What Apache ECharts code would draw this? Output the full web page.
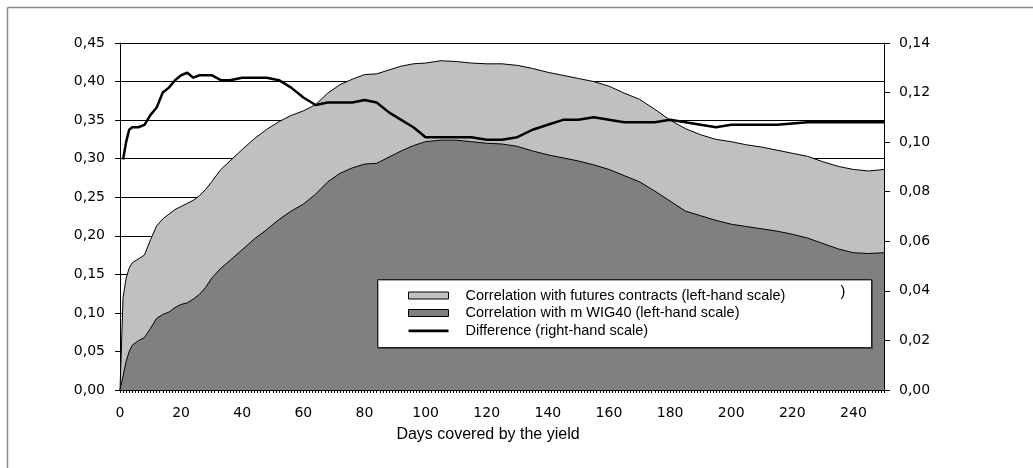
<!DOCTYPE html>
<html>
<head>
<meta charset="utf-8">
<script src="https://cdn.jsdelivr.net/npm/echarts@6/dist/echarts.min.js"></script>
<style>
html,body{margin:0;padding:0;background:#fff;}
#c{width:1033px;height:468px;}
</style>
</head>
<body>
<div id="c"></div>
<script>
const days = [0,1,2,3,4,6,8,10,12,14,16,18,20,22,24,26,28,30,33,36,40,44,48,52,56,60,64,68,72,76,80,84,88,92,96,100,105,110,115,120,125,130,135,140,145,150,155,160,165,170,175,180,185,190,195,200,205,210,215,220,225,230,235,240,245,250];
// Correlation with futures contracts (left-hand scale)
const futures = [0.000,0.120,0.145,0.158,0.165,0.170,0.175,0.195,0.213,0.222,0.228,0.234,0.238,0.242,0.246,0.252,0.260,0.270,0.286,0.297,0.312,0.326,0.338,0.348,0.356,0.362,0.370,0.385,0.396,0.403,0.409,0.410,0.415,0.420,0.423,0.424,0.427,0.426,0.424,0.423,0.423,0.421,0.417,0.412,0.408,0.404,0.400,0.394,0.385,0.377,0.364,0.350,0.339,0.331,0.325,0.322,0.318,0.315,0.311,0.307,0.303,0.296,0.290,0.286,0.284,0.286];
// Correlation with m WIG40 (left-hand scale)
const wig40 = [0.000,0.018,0.037,0.050,0.058,0.064,0.068,0.080,0.093,0.098,0.101,0.107,0.111,0.113,0.118,0.124,0.133,0.145,0.158,0.168,0.182,0.196,0.208,0.221,0.232,0.241,0.254,0.270,0.281,0.288,0.293,0.294,0.302,0.310,0.317,0.322,0.324,0.324,0.322,0.320,0.319,0.316,0.310,0.305,0.301,0.297,0.292,0.286,0.278,0.270,0.258,0.245,0.232,0.226,0.220,0.215,0.212,0.209,0.206,0.202,0.197,0.190,0.183,0.178,0.177,0.178];
// Difference (right-hand scale)
const difference = [null,0.093,0.100,0.105,0.106,0.106,0.107,0.111,0.114,0.120,0.122,0.125,0.127,0.128,0.126,0.127,0.127,0.127,0.125,0.125,0.126,0.126,0.126,0.125,0.122,0.118,0.115,0.116,0.116,0.116,0.117,0.116,0.112,0.109,0.106,0.102,0.102,0.102,0.102,0.101,0.101,0.102,0.105,0.107,0.109,0.109,0.110,0.109,0.108,0.108,0.108,0.109,0.108,0.107,0.106,0.107,0.107,0.107,0.107,0.1075,0.108,0.108,0.108,0.108,0.108,0.108];

const categories = [];
for (let d = 0; d <= 250; d++) categories.push(String(d));

const seriesNames = [
  'Correlation with futures contracts (left-hand scale)',
  'Correlation with m WIG40 (left-hand scale)',
  'Difference (right-hand scale)'
];
const axisTitle = 'Days covered by the yield';

const fmt = v => v.toFixed(2).replace('.', ',');
const FONT = 'Liberation Sans, Arial, sans-serif';
const AXFONT = 'DejaVu Sans, sans-serif';

const chart = echarts.init(document.getElementById('c'), null, {renderer: 'canvas'});
chart.setOption({
  animation: false,
  backgroundColor: '#fff',
  textStyle: {fontFamily: FONT},
  grid: {left: 120, right: 149, top: 43, bottom: 78, containLabel: false},
  xAxis: {
    type: 'category',
    data: categories,
    boundaryGap: false,
    axisLine: {lineStyle: {color: '#000', width: 1}},
    axisTick: {interval: 0, length: 3, lineStyle: {color: '#000'}},
    axisLabel: {interval: 19, margin: 16, color: '#000', fontSize: 14, fontFamily: AXFONT},
    splitLine: {show: false}
  },
  yAxis: [
    {
      type: 'value', min: 0, max: 0.45, interval: 0.05,
      axisLine: {show: true, lineStyle: {color: '#000'}},
      axisTick: {show: true, length: 5, lineStyle: {color: '#000'}},
      axisLabel: {formatter: fmt, color: '#000', fontSize: 14, margin: 15, fontFamily: AXFONT},
      splitLine: {show: true, lineStyle: {color: '#000', width: 1}}
    },
    {
      type: 'value', min: 0, max: 0.14, interval: 0.02,
      axisLine: {show: true, lineStyle: {color: '#000'}},
      axisTick: {show: true, length: 6, lineStyle: {color: '#000'}},
      axisLabel: {formatter: fmt, color: '#000', fontSize: 14, margin: 15, fontFamily: AXFONT},
      splitLine: {show: false}
    }
  ],
  legend: {
    orient: 'vertical',
    left: 408, top: 288,
    padding: 0,
    itemWidth: 40, itemHeight: 7, itemGap: 2.5,
    z: 20,
    textStyle: {fontSize: 14.5, lineHeight: 15, color: '#000', fontFamily: FONT, padding: [0,0,0,12]},
    data: [
      {name: seriesNames[0], icon: 'rect', itemStyle: {color: '#c0c0c0', borderColor: '#000', borderWidth: 1}},
      {name: seriesNames[1], icon: 'rect', itemStyle: {color: '#808080', borderColor: '#000', borderWidth: 1}},
      {name: seriesNames[2], icon: 'path://M0,0h0.01v0.01h-0.01z M0,2.6h40v2.6h-40z M0,6.99h0.01v0.01h-0.01z', itemStyle: {color: '#000', borderWidth: 0}}
    ]
  },
  graphic: [
    {type: 'line', shape: {x1: 7.5, y1: 7.5, x2: 1033, y2: 7.5}, style: {stroke: '#8a8a8a', lineWidth: 1.5}, z: 1},
    {type: 'line', shape: {x1: 7.5, y1: 7.5, x2: 7.5, y2: 468}, style: {stroke: '#8a8a8a', lineWidth: 1.5}, z: 1},
    {type: 'rect', shape: {x: 377.5, y: 279.5, width: 494, height: 68}, style: {fill: '#fff', stroke: '#222', lineWidth: 1, shadowColor: 'rgba(0,0,0,0.35)', shadowOffsetX: 1, shadowOffsetY: 1, shadowBlur: 0}, z: 15},
    {type: 'text', x: 843, y: 292, style: {text: ')', font: '14.5px ' + FONT, fill: '#000', textAlign: 'center', textVerticalAlign: 'middle'}, z: 16},
    {type: 'text', x: 488, y: 435, style: {text: axisTitle, font: '16px ' + FONT, fill: '#000', textAlign: 'center', textVerticalAlign: 'middle'}, z: 16}
  ],
  series: [
    {
      name: seriesNames[0], type: 'line', yAxisIndex: 0,
      data: days.map((d, i) => [d, futures[i]]),
      symbol: 'none', showSymbol: false,
      lineStyle: {color: '#000', width: 1},
      itemStyle: {color: '#c0c0c0'},
      areaStyle: {color: '#c0c0c0', opacity: 1},
      z: 2
    },
    {
      name: seriesNames[1], type: 'line', yAxisIndex: 0,
      data: days.map((d, i) => [d, wig40[i]]),
      symbol: 'none', showSymbol: false,
      lineStyle: {color: '#000', width: 1},
      itemStyle: {color: '#808080'},
      areaStyle: {color: '#808080', opacity: 1},
      z: 3
    },
    {
      name: seriesNames[2], type: 'line', yAxisIndex: 1,
      data: days.map((d, i) => [d, difference[i]]),
      symbol: 'none', showSymbol: false,
      lineStyle: {color: '#000', width: 2.5},
      itemStyle: {color: '#000'},
      z: 4
    }
  ]
});
</script>
</body>
</html>
